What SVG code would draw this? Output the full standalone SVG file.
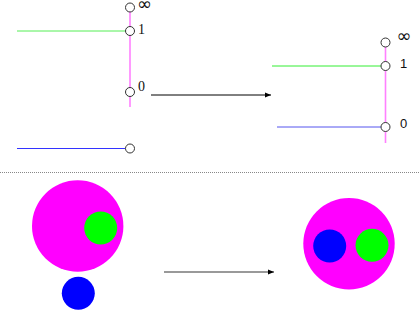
<svg xmlns="http://www.w3.org/2000/svg" width="419" height="310" viewBox="0 0 419 310">
<defs>
<style>
.pink{stroke:#ff80ff;stroke-width:1.6;fill:none}
.pt{fill:#fff;stroke:#333;stroke-width:1}
.lblS{font-family:"Liberation Serif",serif;font-size:14px;fill:#111}
.lblA{font-family:"Liberation Sans",sans-serif;font-size:13px;fill:#111}
.inf{font-family:"DejaVu Sans",sans-serif;font-size:18px;fill:#111}
</style>
<marker id="ah" viewBox="0 0 6 6" refX="6" refY="3" markerWidth="6" markerHeight="6" markerUnits="userSpaceOnUse" orient="auto"><path d="M0,0.5 L6,3 L0,5.5 Z" fill="#000"/></marker>
</defs>
<g id="connectors">
<line x1="151" y1="95" x2="271" y2="95" stroke="#000" stroke-width="1" marker-end="url(#ah)"/>
<line x1="164" y1="272" x2="274" y2="272" stroke="#999" stroke-width="2" marker-end="url(#ah)"/>
<line x1="0" y1="172.5" x2="419" y2="172.5" stroke="#888" stroke-width="1" stroke-dasharray="1,1"/>
</g>
<g id="left-top">
<line class="pink" x1="130" y1="11" x2="130" y2="107"/>
<line x1="17" y1="31" x2="125.5" y2="31" stroke="#55ee55" stroke-width="1"/>
<line x1="17" y1="148.5" x2="125.5" y2="148.5" stroke="#3333ff" stroke-width="1"/>
<circle class="pt" cx="130" cy="7.5" r="4.5"/>
<circle class="pt" cx="130" cy="31" r="4.5"/>
<circle class="pt" cx="130" cy="92" r="4.5"/>
<circle class="pt" cx="130" cy="148.5" r="4.5"/>
<text class="inf" x="137" y="9.5">∞</text>
<text class="lblS" x="138" y="34">1</text>
<text class="lblS" x="138" y="91">0</text>
</g>
<g id="right-top">
<line class="pink" x1="385.5" y1="46" x2="385.5" y2="143"/>
<line x1="272" y1="66" x2="381" y2="66" stroke="#33ee33" stroke-width="1"/>
<line x1="277" y1="127" x2="381" y2="127" stroke="#5555ee" stroke-width="1"/>
<circle class="pt" cx="385.5" cy="42.5" r="4.5"/>
<circle class="pt" cx="385.5" cy="66" r="4.5"/>
<circle class="pt" cx="385.5" cy="127" r="4.5"/>
<text class="inf" x="396.5" y="42">∞</text>
<text class="lblA" x="400" y="68">1</text>
<text class="lblA" x="400" y="127.5">0</text>
</g>
<g id="left-bottom">
<circle cx="77.7" cy="226" r="45.7" fill="#ff00ff"/>
<circle cx="100.7" cy="228" r="16.5" fill="#00ff00"/>
<circle cx="78.3" cy="293.3" r="16.5" fill="#0000ff"/>
</g>
<g id="right-bottom">
<circle cx="349" cy="243.7" r="45.7" fill="#ff00ff"/>
<circle cx="329.7" cy="246" r="16.5" fill="#0000ff"/>
<circle cx="372" cy="245.3" r="16.5" fill="#00ff00"/>
</g>
</svg>
